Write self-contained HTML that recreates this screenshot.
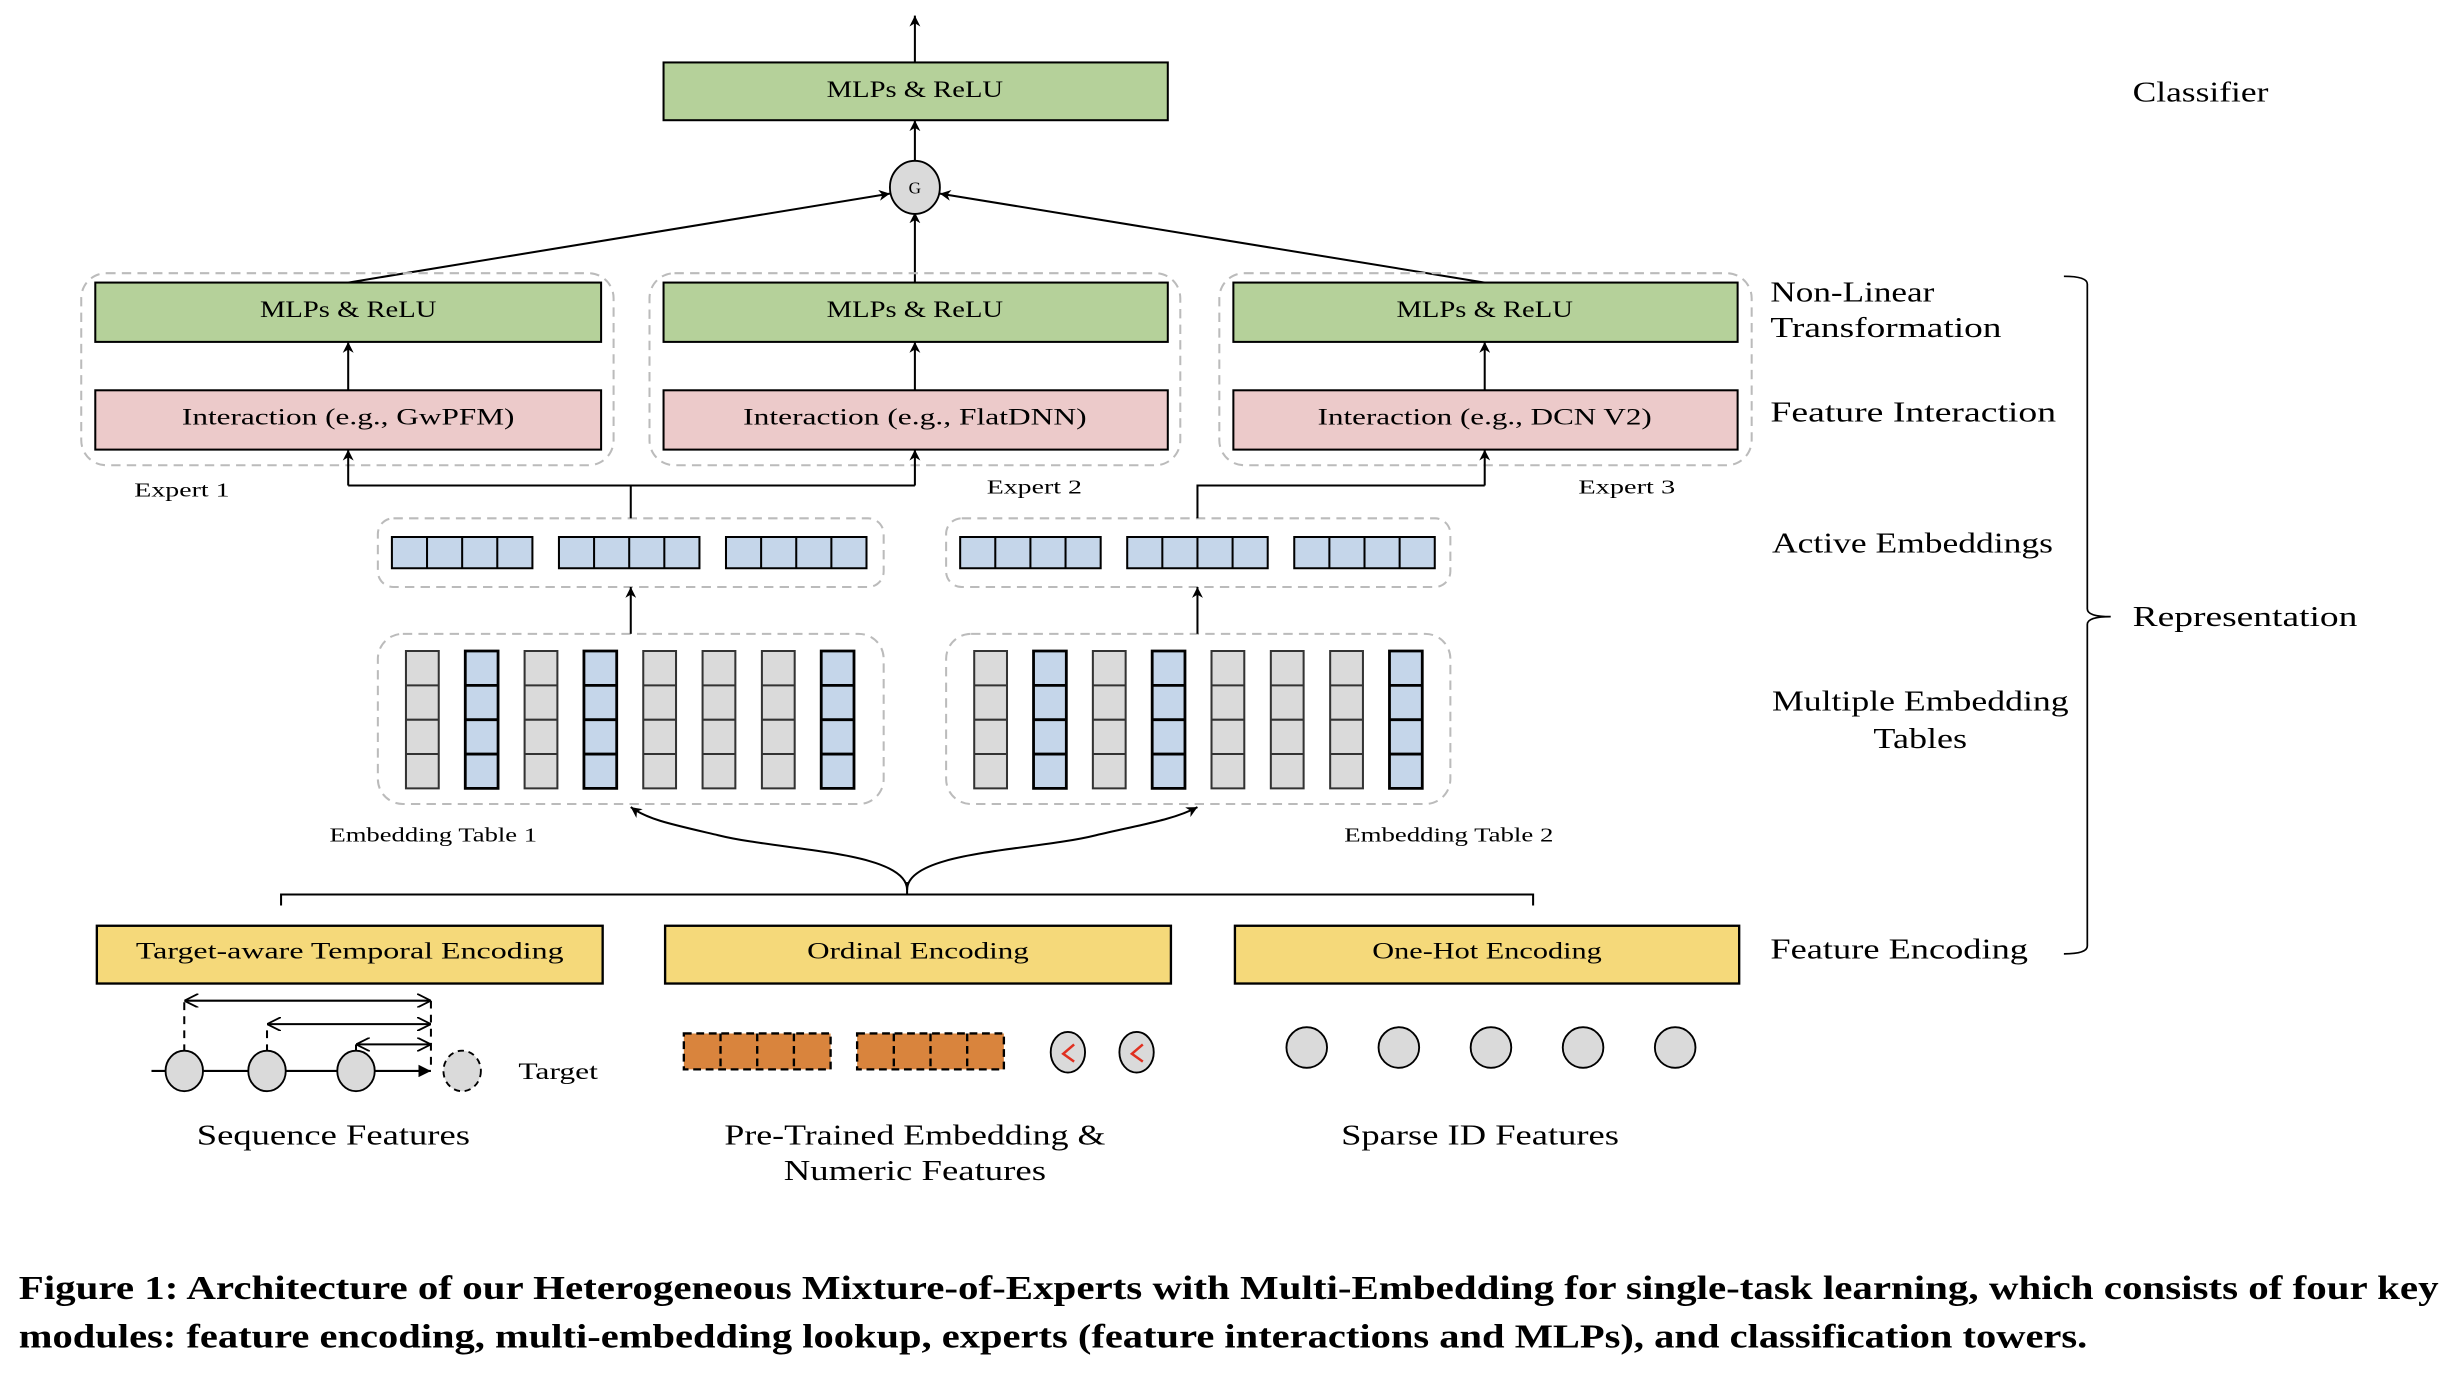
<!DOCTYPE html>
<html><head><meta charset="utf-8"><style>
html,body{margin:0;padding:0;background:#fff;}
svg{display:block;}
text{font-family:"Liberation Serif",serif;fill:#000;}
</style></head><body>
<svg width="2448" height="1376" viewBox="0 0 1568 881.4" xmlns="http://www.w3.org/2000/svg">
<defs>
<marker id="a" viewBox="0 0 10 10" refX="10" refY="5" markerWidth="7" markerHeight="7" orient="auto" markerUnits="userSpaceOnUse"><path d="M0,0 L10,5 L0,10 L3,5 z" fill="#000"/></marker>
<marker id="b" viewBox="0 0 10 10" refX="10" refY="5" markerWidth="9" markerHeight="9" orient="auto-start-reverse" markerUnits="userSpaceOnUse"><path d="M0,0 L10,5 L0,10" fill="none" stroke="#000" stroke-width="1.3"/></marker>
<marker id="t" viewBox="0 0 10 10" refX="10" refY="5" markerWidth="8" markerHeight="8" orient="auto" markerUnits="userSpaceOnUse"><path d="M0,0 L10,5 L0,10 z" fill="#000"/></marker>
</defs>
<g stroke="#000" stroke-width="1.3" fill="none">
<line x1="586" y1="40" x2="586" y2="10" marker-end="url(#a)"/>
<line x1="586" y1="104" x2="586" y2="77" marker-end="url(#a)"/>
<line x1="223" y1="181" x2="570" y2="124" marker-end="url(#a)"/>
<line x1="586" y1="181" x2="586" y2="136" marker-end="url(#a)"/>
<line x1="951" y1="181" x2="602" y2="124" marker-end="url(#a)"/>
</g>
<rect x="425" y="40" width="323" height="37" fill="#b5d19a" stroke="#000" stroke-width="1.3"/>
<text x="586" y="62" font-size="15" text-anchor="middle" textLength="113" lengthAdjust="spacingAndGlyphs">MLPs &amp; ReLU</text>
<ellipse cx="586" cy="120" rx="16" ry="17" fill="#dadada" stroke="#000" stroke-width="1.2"/>
<text x="586" y="124" font-size="11" text-anchor="middle">G</text>

<g fill="none" stroke="#bbb" stroke-width="1.3" stroke-dasharray="6,4">
<rect x="52" y="175" width="341" height="123" rx="16"/>
<rect x="416" y="175" width="340" height="123" rx="16"/>
<rect x="781" y="175" width="341" height="123" rx="16"/>
<rect x="242" y="332" width="324" height="44" rx="10"/>
<rect x="606" y="332" width="323" height="44" rx="10"/>
<rect x="242" y="406" width="324" height="109" rx="16"/>
<rect x="606" y="406" width="323" height="109" rx="16"/>
</g>
<g stroke="#000" stroke-width="1.3">
<rect x="61" y="181" width="324" height="38" fill="#b5d19a"/>
<rect x="425" y="181" width="323" height="38" fill="#b5d19a"/>
<rect x="790" y="181" width="323" height="38" fill="#b5d19a"/>
<rect x="61" y="250" width="324" height="38" fill="#eccaca"/>
<rect x="425" y="250" width="323" height="38" fill="#eccaca"/>
<rect x="790" y="250" width="323" height="38" fill="#eccaca"/>
</g>
<g font-size="15" text-anchor="middle" lengthAdjust="spacingAndGlyphs">
<text x="223" y="203" textLength="113" lengthAdjust="spacingAndGlyphs">MLPs &amp; ReLU</text>
<text x="586" y="203" textLength="113" lengthAdjust="spacingAndGlyphs">MLPs &amp; ReLU</text>
<text x="951" y="203" textLength="113" lengthAdjust="spacingAndGlyphs">MLPs &amp; ReLU</text>
<text x="223" y="272" textLength="213" lengthAdjust="spacingAndGlyphs">Interaction (e.g., GwPFM)</text>
<text x="586" y="272" textLength="220" lengthAdjust="spacingAndGlyphs">Interaction (e.g., FlatDNN)</text>
<text x="951" y="272" textLength="214" lengthAdjust="spacingAndGlyphs">Interaction (e.g., DCN V2)</text>
</g>
<g stroke="#000" stroke-width="1.3" fill="none">
<line x1="223" y1="250" x2="223" y2="219" marker-end="url(#a)"/>
<line x1="586" y1="250" x2="586" y2="219" marker-end="url(#a)"/>
<line x1="951" y1="250" x2="951" y2="219" marker-end="url(#a)"/>
<polyline points="404,332 404,311"/>
<line x1="223" y1="311" x2="586" y2="311"/>
<line x1="223" y1="311" x2="223" y2="288" marker-end="url(#a)"/>
<line x1="586" y1="311" x2="586" y2="288" marker-end="url(#a)"/>
<polyline points="767,332 767,311 951,311"/>
<line x1="951" y1="311" x2="951" y2="288" marker-end="url(#a)"/>
<line x1="404" y1="406" x2="404" y2="376" marker-end="url(#a)"/>
<line x1="767" y1="406" x2="767" y2="376" marker-end="url(#a)"/>
<path d="M581,570 C581,545 500,545 460,535 C430,528 415,525 404,517" marker-end="url(#a)"/>
<path d="M581,570 C581,545 662,545 702,535 C732,528 752,525 767,517" marker-end="url(#a)"/>
<polyline points="180,580 180,573 982,573 982,580"/>
<line x1="581" y1="573" x2="581" y2="565"/>
</g>
<g font-size="13">
<text x="86" y="318" textLength="61" lengthAdjust="spacingAndGlyphs">Expert 1</text>
<text x="632" y="316" textLength="61" lengthAdjust="spacingAndGlyphs">Expert 2</text>
<text x="1011" y="316" textLength="62" lengthAdjust="spacingAndGlyphs">Expert 3</text>
<text x="211" y="539" textLength="133" lengthAdjust="spacingAndGlyphs">Embedding Table 1</text>
<text x="861" y="539" textLength="134" lengthAdjust="spacingAndGlyphs">Embedding Table 2</text>
</g>

<g fill="#c5d6ea" stroke="#000" stroke-width="1.3">
<path d="M251,344h90v20h-90z M273.5,344v20 M296,344v20 M318.5,344v20"/>
<path d="M358,344h90v20h-90z M380.5,344v20 M403,344v20 M425.5,344v20"/>
<path d="M465,344h90v20h-90z M487.5,344v20 M510,344v20 M532.5,344v20"/>
<path d="M615,344h90v20h-90z M637.5,344v20 M660,344v20 M682.5,344v20"/>
<path d="M722,344h90v20h-90z M744.5,344v20 M767,344v20 M789.5,344v20"/>
<path d="M829,344h90v20h-90z M851.5,344v20 M874,344v20 M896.5,344v20"/>
</g>

<g stroke-width="1.3">
<g id="tb">
<path d="M260,417h21v88h-21z M260,439h21 M260,461h21 M260,483h21" fill="#dadada" stroke="#333"/>
<path d="M298,417h21v88h-21z M298,439h21 M298,461h21 M298,483h21" fill="#c5d6ea" stroke="#000" stroke-width="1.8"/>
<path d="M336,417h21v88h-21z M336,439h21 M336,461h21 M336,483h21" fill="#dadada" stroke="#333"/>
<path d="M374,417h21v88h-21z M374,439h21 M374,461h21 M374,483h21" fill="#c5d6ea" stroke="#000" stroke-width="1.8"/>
<path d="M412,417h21v88h-21z M412,439h21 M412,461h21 M412,483h21" fill="#dadada" stroke="#333"/>
<path d="M450,417h21v88h-21z M450,439h21 M450,461h21 M450,483h21" fill="#dadada" stroke="#333"/>
<path d="M488,417h21v88h-21z M488,439h21 M488,461h21 M488,483h21" fill="#dadada" stroke="#333"/>
<path d="M526,417h21v88h-21z M526,439h21 M526,461h21 M526,483h21" fill="#c5d6ea" stroke="#000" stroke-width="1.8"/>
</g>
<use href="#tb" x="364"/>
</g>

<g stroke="#000" stroke-width="1.5" fill="#f5d97a">
<rect x="62" y="593" width="324" height="37"/>
<rect x="426" y="593" width="324" height="37"/>
<rect x="791" y="593" width="323" height="37"/>
</g>
<g font-size="15">
<text x="87" y="614" textLength="274" lengthAdjust="spacingAndGlyphs">Target-aware Temporal Encoding</text>
<text x="517" y="614" textLength="142" lengthAdjust="spacingAndGlyphs">Ordinal Encoding</text>
<text x="879" y="614" textLength="147" lengthAdjust="spacingAndGlyphs">One-Hot Encoding</text>
</g>

<g stroke="#000" stroke-width="1.3" fill="none">
<line x1="97" y1="686" x2="276" y2="686" marker-end="url(#t)"/>
<g stroke-dasharray="5,4">
<line x1="118" y1="674" x2="118" y2="641"/>
<line x1="171" y1="674" x2="171" y2="656"/>
<line x1="228" y1="674" x2="228" y2="669"/>
<line x1="276" y1="641" x2="276" y2="686"/>
</g>
<line x1="118" y1="641" x2="276" y2="641" marker-start="url(#b)" marker-end="url(#b)"/>
<line x1="171" y1="656" x2="276" y2="656" marker-start="url(#b)" marker-end="url(#b)"/>
<line x1="228" y1="669" x2="276" y2="669" marker-start="url(#b)" marker-end="url(#b)"/>
</g>
<g fill="#dadada" stroke="#000" stroke-width="1.2">
<ellipse cx="118" cy="686" rx="12" ry="13"/>
<ellipse cx="171" cy="686" rx="12" ry="13"/>
<ellipse cx="228" cy="686" rx="12" ry="13"/>
<ellipse cx="296" cy="686" rx="12" ry="13" stroke-dasharray="4,3"/>
</g>
<text x="332" y="691" font-size="15" textLength="51" lengthAdjust="spacingAndGlyphs">Target</text>

<g fill="#d9843d" stroke="#000" stroke-width="1.5" stroke-dasharray="5,3">
<path d="M438,662h94v23h-94z M461.5,662v23 M485,662v23 M508.5,662v23"/>
<path d="M549,662h94v23h-94z M572.5,662v23 M596,662v23 M619.5,662v23"/>
</g>
<g fill="#dadada" stroke="#000" stroke-width="1.2">
<ellipse cx="684" cy="674" rx="11" ry="13"/>
<ellipse cx="728" cy="674" rx="11" ry="13"/>
</g>
<g stroke="#e03020" stroke-width="1.6" fill="none">
<path d="M688,669 L681,675 L688,680"/>
<path d="M732,669 L725,675 L732,680"/>
</g>
<g fill="#dadada" stroke="#000" stroke-width="1.2">
<circle cx="837" cy="671" r="13"/><circle cx="896" cy="671" r="13"/><circle cx="955" cy="671" r="13"/><circle cx="1014" cy="671" r="13"/><circle cx="1073" cy="671" r="13"/>
</g>

<g font-size="18">
<text x="126" y="733" textLength="175" lengthAdjust="spacingAndGlyphs">Sequence Features</text>
<text x="464" y="733" textLength="244" lengthAdjust="spacingAndGlyphs">Pre-Trained Embedding &amp;</text>
<text x="502" y="756" textLength="168" lengthAdjust="spacingAndGlyphs">Numeric Features</text>
<text x="859" y="733" textLength="178" lengthAdjust="spacingAndGlyphs">Sparse ID Features</text>
</g>

<g font-size="18">
<text x="1366" y="65" textLength="87" lengthAdjust="spacingAndGlyphs">Classifier</text>
<text x="1134" y="193" textLength="105" lengthAdjust="spacingAndGlyphs">Non-Linear</text>
<text x="1134" y="216" textLength="148" lengthAdjust="spacingAndGlyphs">Transformation</text>
<text x="1134" y="270" textLength="183" lengthAdjust="spacingAndGlyphs">Feature Interaction</text>
<text x="1135" y="354" textLength="180" lengthAdjust="spacingAndGlyphs">Active Embeddings</text>
<text x="1135" y="455" textLength="190" lengthAdjust="spacingAndGlyphs">Multiple Embedding</text>
<text x="1200" y="479" textLength="60" lengthAdjust="spacingAndGlyphs">Tables</text>
<text x="1134" y="614" textLength="165" lengthAdjust="spacingAndGlyphs">Feature Encoding</text>
<text x="1366" y="401" textLength="144" lengthAdjust="spacingAndGlyphs">Representation</text>
</g>
<path d="M1322,177 Q1337,177 1337,182 L1337,390 Q1337,395 1352,395 Q1337,395 1337,400 L1337,606 Q1337,611 1322,611" fill="none" stroke="#000" stroke-width="1.1"/>

<g font-size="22" font-weight="bold">
<text x="12" y="832" textLength="1550" lengthAdjust="spacingAndGlyphs">Figure 1: Architecture of our Heterogeneous Mixture-of-Experts with Multi-Embedding for single-task learning, which consists of four key</text>
<text x="12" y="863" textLength="1325" lengthAdjust="spacingAndGlyphs">modules: feature encoding, multi-embedding lookup, experts (feature interactions and MLPs), and classification towers.</text>
</g>
</svg>
</body></html>
